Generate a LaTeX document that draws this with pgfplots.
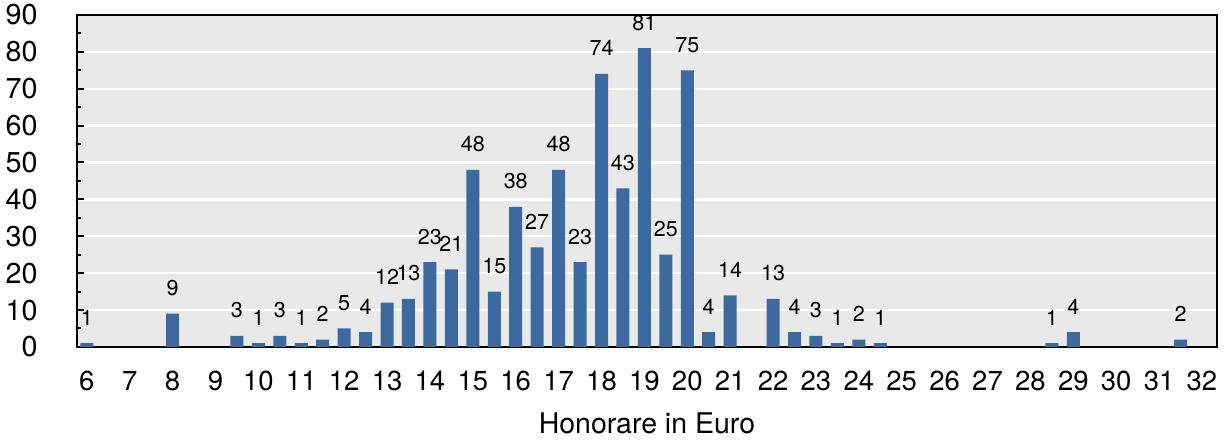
\documentclass[border=0pt]{standalone}
\usepackage{fontspec}
\setmainfont{TeX Gyre Heros}
\usepackage{pgfplots}
\pgfplotsset{compat=1.18}
\definecolor{barblue}{RGB}{60,106,158}
\definecolor{bggray}{RGB}{233,233,233}
\begin{document}
\begin{tikzpicture}
\begin{axis}[
  scale only axis,
  width=570bp, height=166bp,
  xmin=5.77, xmax=32.35,
  ymin=0, ymax=90,
  clip=false,
  axis background/.style={fill=bggray},
  axis line style={line width=1.1bp, black},
  xtick={6,...,32},
  ytick={0,10,...,90},
  minor ytick={5,15,...,85},
  ymajorgrids,
  major grid style={white, line width=1.2bp},
  x tick style={draw=none},
  y tick style={black, line width=1bp},
  ytick pos=left,
  tick align=inside,
  major tick length=3.5bp,
  minor tick length=2bp,
  /pgf/number format/assume math mode=true,
  yticklabel style={font=\fontsize{14.4}{16}\selectfont, inner sep=0pt, anchor=east, xshift=-19.5bp},
  xticklabel style={font=\fontsize{13.8}{16}\selectfont, inner sep=0pt, anchor=north, yshift=-8.5bp},
  xlabel={Honorare in Euro},
  xlabel style={at={(axis description cs:0.5,0)}, anchor=base, yshift=-43.5bp, font=\fontsize{14.3}{16}\selectfont, inner sep=0pt},
  ybar,
  bar width=6.5bp,
  nodes near coords,
  every node near coord/.append style={font=\fontsize{10.8}{12}\selectfont, anchor=base, inner sep=0pt, yshift=9bp, black},
]
\addplot[fill=barblue, draw=none] coordinates {
(6,1) (8,9) (9.5,3) (10,1) (10.5,3) (11,1) (11.5,2) (12,5) (12.5,4)
(13,12) (13.5,13) (14,23) (14.5,21) (15,48) (15.5,15) (16,38) (16.5,27)
(17,48) (17.5,23) (18,74) (18.5,43) (19,81) (19.5,25) (20,75) (20.5,4)
(21,14) (22,13) (22.5,4) (23,3) (23.5,1) (24,2) (24.5,1) (28.5,1) (29,4) (31.5,2)
};
\path (rel axis cs:-0.0675,-0.289) rectangle (rel axis cs:1.0088,1.045);
\end{axis}
\end{tikzpicture}
\end{document}
